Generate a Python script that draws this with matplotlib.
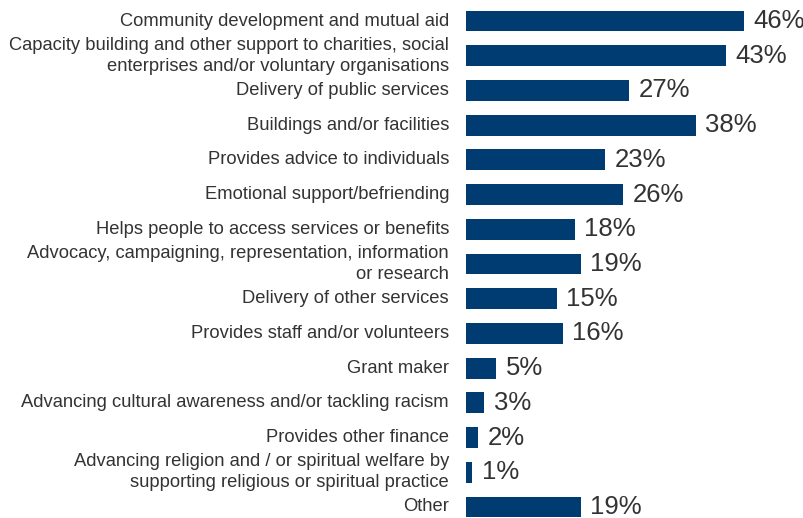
import matplotlib
matplotlib.use("Agg")
import matplotlib.pyplot as plt

categories = [
    "Community development and mutual aid",
    "Capacity building and other support to charities, social\nenterprises and/or voluntary organisations",
    "Delivery of public services",
    "Buildings and/or facilities",
    "Provides advice to individuals",
    "Emotional support/befriending",
    "Helps people to access services or benefits",
    "Advocacy, campaigning, representation, information\nor research",
    "Delivery of other services",
    "Provides staff and/or volunteers",
    "Grant maker",
    "Advancing cultural awareness and/or tackling racism",
    "Provides other finance",
    "Advancing religion and / or spiritual welfare by\nsupporting religious or spiritual practice",
    "Other",
]
values = [46, 43, 27, 38, 23, 26, 18, 19, 15, 16, 5, 3, 2, 1, 19]

bar_color = "#003b71"
text_color = "#333333"

plt.rcParams["font.family"] = ["Liberation Sans", "DejaVu Sans"]

fig = plt.figure(figsize=(8.04, 5.18), dpi=100)
ax = fig.add_axes([466 / 804, 0, 1 - 466 / 804, 1])

pos = list(range(len(values)))
ax.barh(pos, values, height=0.6, color=bar_color)
ax.set_xlim(0, 338 / 6.04)
ax.set_ylim(14.318, -0.605)

for y, v, lab in zip(pos, values, categories):
    ax.text(v + 1.6, y, f"{v}%", va="center", ha="left",
            fontsize=18.5, color=text_color)
    ax.text(-2.8, y, lab, va="center", ha="right", multialignment="right",
            fontsize=13.2, color=text_color, linespacing=1.3)

ax.axis("off")
fig.savefig("out.png", dpi=100)
